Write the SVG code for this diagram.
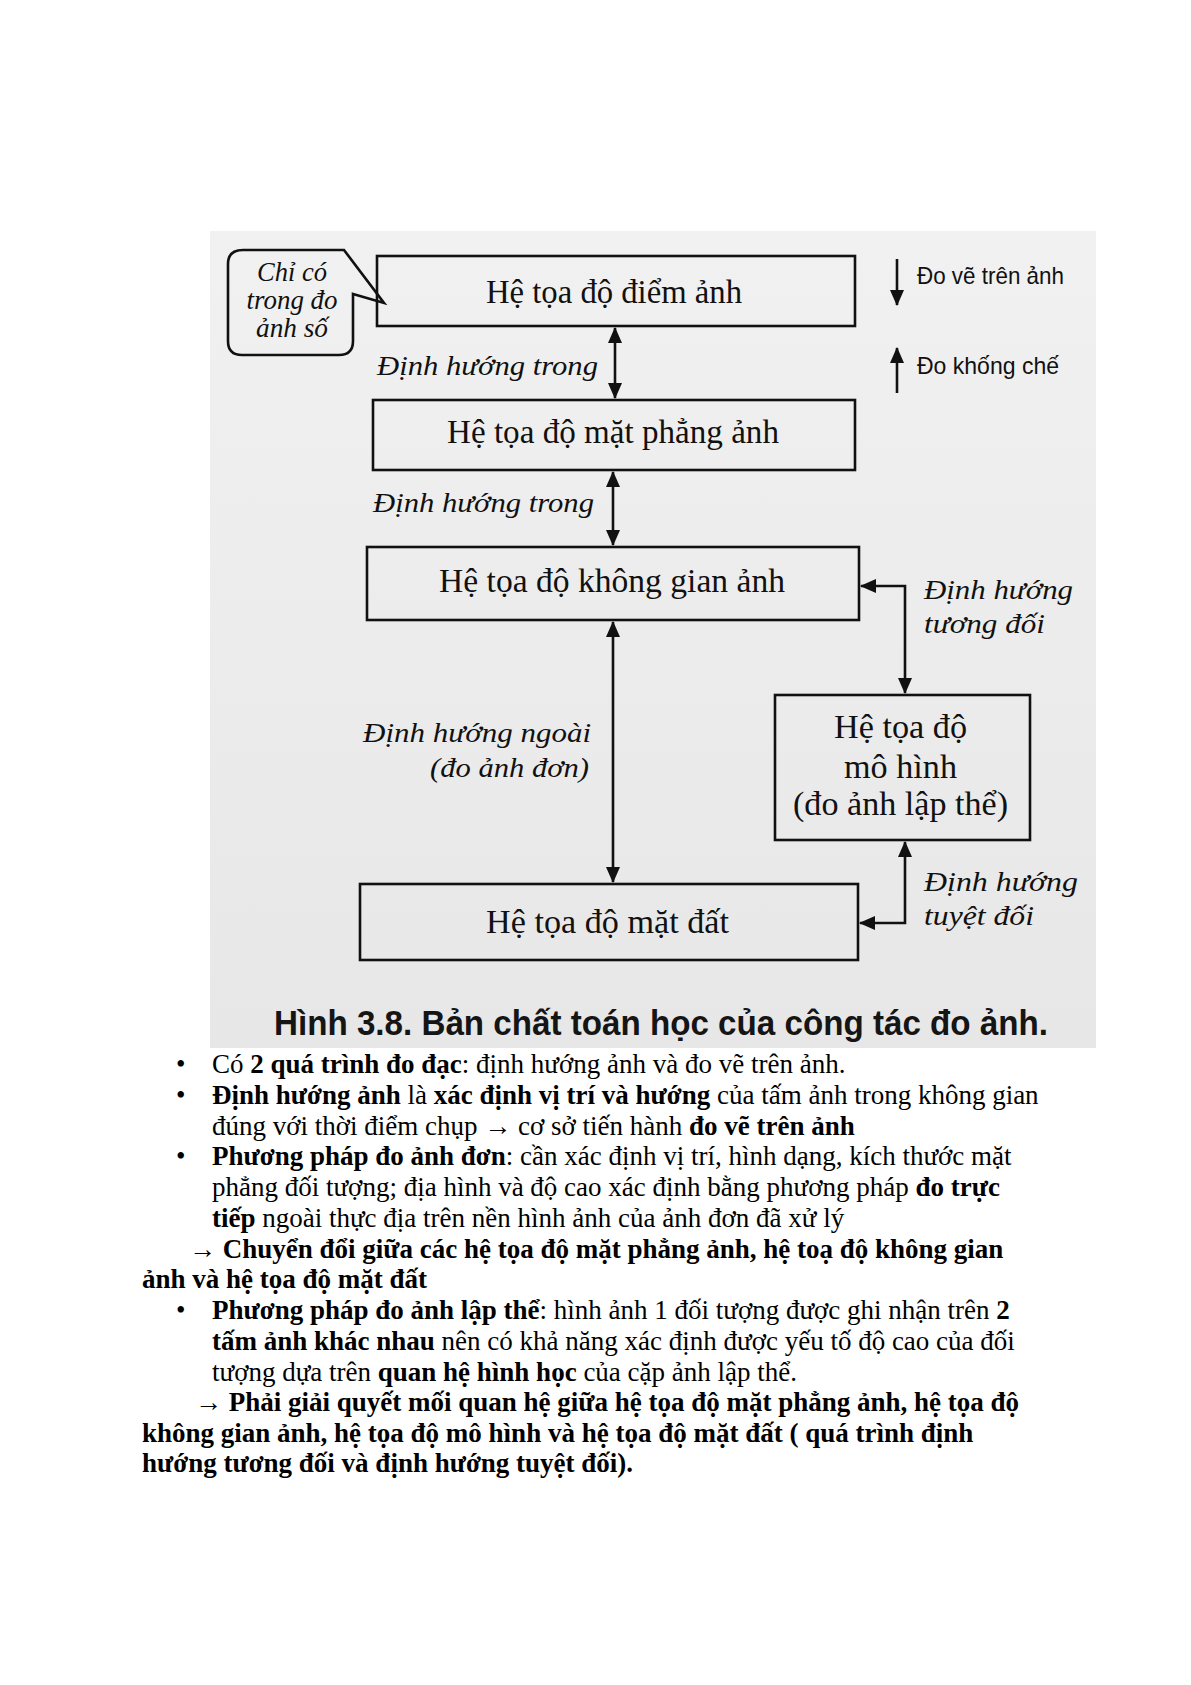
<svg xmlns="http://www.w3.org/2000/svg" width="1191" height="1685" viewBox="0 0 1191 1685">
<style>
.box{fill:none;stroke:#111;stroke-width:2.6}
.bt{font-family:"Liberation Serif","Times New Roman",serif;font-size:34px;fill:#111}
.it{font-family:"Liberation Serif","Times New Roman",serif;font-style:italic;font-size:28px;fill:#111}
.ss{font-family:"Liberation Sans",Arial,sans-serif;font-size:24px;fill:#111}
.cap{font-family:"Liberation Sans",Arial,sans-serif;font-weight:bold;font-size:35px;fill:#151515}
.conn{fill:none;stroke:#111;stroke-width:2.6}
.body{font-family:"Liberation Serif","Times New Roman",serif;font-size:27px;fill:#000}
.b{font-weight:bold}
</style>
<defs>
<linearGradient id="bg" x1="0" y1="0" x2="0" y2="1">
<stop offset="0" stop-color="#f1f1f1"/>
<stop offset="1" stop-color="#e7e7e7"/>
</linearGradient>
<marker id="ah" markerUnits="userSpaceOnUse" viewBox="0 0 16 14" markerWidth="16" markerHeight="14" refX="15" refY="7" orient="auto-start-reverse">
<path d="M0,0 L16,7 L0,14 Z" fill="#111"/>
</marker>
</defs>
<rect width="1191" height="1685" fill="#fff"/>
<rect x="210" y="231" width="886" height="817" fill="url(#bg)"/>

<g id="callout">
<path class="box" d="M243,250 L344,250 L384,303 L353,294 L353,341 Q353,355 339,355 L242,355 Q228,355 228,341 L228,264 Q228,250 243,250 Z"/>
<text class="it" font-size="22" text-anchor="middle" x="292" y="281" textLength="70" lengthAdjust="spacingAndGlyphs">Chỉ có</text>
<text class="it" font-size="22" text-anchor="middle" x="292" y="309" textLength="91" lengthAdjust="spacingAndGlyphs">trong đo</text>
<text class="it" font-size="22" text-anchor="middle" x="292" y="337" textLength="72" lengthAdjust="spacingAndGlyphs">ảnh số</text>
</g>

<g id="n1">
<rect class="box" x="377" y="256" width="478" height="70"/>
<text class="bt" x="486" y="303" textLength="256" lengthAdjust="spacingAndGlyphs">Hệ tọa độ điểm ảnh</text>
</g>
<g id="n2">
<rect class="box" x="373" y="400" width="482" height="70"/>
<text class="bt" x="447" y="443" textLength="332" lengthAdjust="spacingAndGlyphs">Hệ tọa độ mặt phẳng ảnh</text>
</g>
<g id="n3">
<rect class="box" x="367" y="547" width="492" height="73"/>
<text class="bt" x="439" y="592" textLength="346" lengthAdjust="spacingAndGlyphs">Hệ tọa độ không gian ảnh</text>
</g>
<g id="n4">
<rect class="box" x="775" y="695" width="255" height="145"/>
<text class="bt" x="834" y="738" textLength="133" lengthAdjust="spacingAndGlyphs">Hệ tọa độ</text>
<text class="bt" x="844" y="778" textLength="113" lengthAdjust="spacingAndGlyphs">mô hình</text>
<text class="bt" x="793" y="815" textLength="215" lengthAdjust="spacingAndGlyphs">(đo ảnh lập thể)</text>
</g>
<g id="n5">
<rect class="box" x="360" y="884" width="498" height="76"/>
<text class="bt" x="486" y="933" textLength="243" lengthAdjust="spacingAndGlyphs">Hệ tọa độ mặt đất</text>
</g>

<g id="connectors">
<path class="conn" d="M615,328 V398" marker-start="url(#ah)" marker-end="url(#ah)"/>
<path class="conn" d="M613,472 V545" marker-start="url(#ah)" marker-end="url(#ah)"/>
<path class="conn" d="M613,622 V882" marker-start="url(#ah)" marker-end="url(#ah)"/>
<path class="conn" d="M861,586 H905 V693" marker-start="url(#ah)" marker-end="url(#ah)"/>
<path class="conn" d="M905,842 V923 H860" marker-start="url(#ah)" marker-end="url(#ah)"/>
<path class="conn" d="M897,259 V305" marker-end="url(#ah)"/>
<path class="conn" d="M897,393 V348" marker-end="url(#ah)"/>
</g>

<g id="labels">
<text class="it" x="377" y="375" textLength="221" lengthAdjust="spacingAndGlyphs">Định hướng trong</text>
<text class="it" x="373" y="512" textLength="221" lengthAdjust="spacingAndGlyphs">Định hướng trong</text>
<text class="it" x="363" y="742" textLength="228" lengthAdjust="spacingAndGlyphs">Định hướng ngoài</text>
<text class="it" x="430" y="777" textLength="159" lengthAdjust="spacingAndGlyphs">(đo ảnh đơn)</text>
<text class="it" x="924" y="599" textLength="149" lengthAdjust="spacingAndGlyphs">Định hướng</text>
<text class="it" x="924" y="633" textLength="121" lengthAdjust="spacingAndGlyphs">tương đối</text>
<text class="it" x="924" y="891" textLength="154" lengthAdjust="spacingAndGlyphs">Định hướng</text>
<text class="it" x="924" y="925" textLength="110" lengthAdjust="spacingAndGlyphs">tuyệt đối</text>
<text class="ss" x="917" y="284" textLength="147" lengthAdjust="spacingAndGlyphs">Đo vẽ trên ảnh</text>
<text class="ss" x="917" y="374" textLength="142" lengthAdjust="spacingAndGlyphs">Đo khống chế</text>
<text class="cap" x="274" y="1035" textLength="774" lengthAdjust="spacingAndGlyphs">Hình 3.8. Bản chất toán học của công tác đo ảnh.</text>
</g>

<g id="bodytext" class="body">
<text x="176" y="1073">•</text>
<text x="212" y="1073">Có <tspan class="b">2 quá trình đo đạc</tspan>: định hướng ảnh và đo vẽ trên ảnh.</text>
<text x="176" y="1104">•</text>
<text x="212" y="1104"><tspan class="b">Định hướng ảnh</tspan> là <tspan class="b">xác định vị trí và hướng</tspan> của tấm ảnh trong không gian</text>
<text x="212" y="1135">đúng với thời điểm chụp → cơ sở tiến hành <tspan class="b">đo vẽ trên ảnh</tspan></text>
<text x="176" y="1165">•</text>
<text x="212" y="1165"><tspan class="b">Phương pháp đo ảnh đơn</tspan>: cần xác định vị trí, hình dạng, kích thước mặt</text>
<text x="212" y="1196">phẳng đối tượng; địa hình và độ cao xác định bằng phương pháp <tspan class="b">đo trực</tspan></text>
<text x="212" y="1227"><tspan class="b">tiếp</tspan> ngoài thực địa trên nền hình ảnh của ảnh đơn đã xử lý</text>
<text x="189" y="1258" class="b">→ Chuyển đổi giữa các hệ tọa độ mặt phẳng ảnh, hệ toạ độ không gian</text>
<text x="142" y="1288" class="b">ảnh và hệ tọa độ mặt đất</text>
<text x="176" y="1319">•</text>
<text x="212" y="1319"><tspan class="b">Phương pháp đo ảnh lập thể</tspan>: hình ảnh 1 đối tượng được ghi nhận trên <tspan class="b">2</tspan></text>
<text x="212" y="1350"><tspan class="b">tấm ảnh khác nhau</tspan> nên có khả năng xác định được yếu tố độ cao của đối</text>
<text x="212" y="1381">tượng dựa trên <tspan class="b">quan hệ hình học</tspan> của cặp ảnh lập thể.</text>
<text x="195" y="1411" class="b">→ Phải giải quyết mối quan hệ giữa hệ tọa độ mặt phẳng ảnh, hệ tọa độ</text>
<text x="142" y="1442" class="b">không gian ảnh, hệ tọa độ mô hình và hệ tọa độ mặt đất ( quá trình định</text>
<text x="142" y="1472" class="b">hướng tương đối và định hướng tuyệt đối).</text>
</g>
</svg>
